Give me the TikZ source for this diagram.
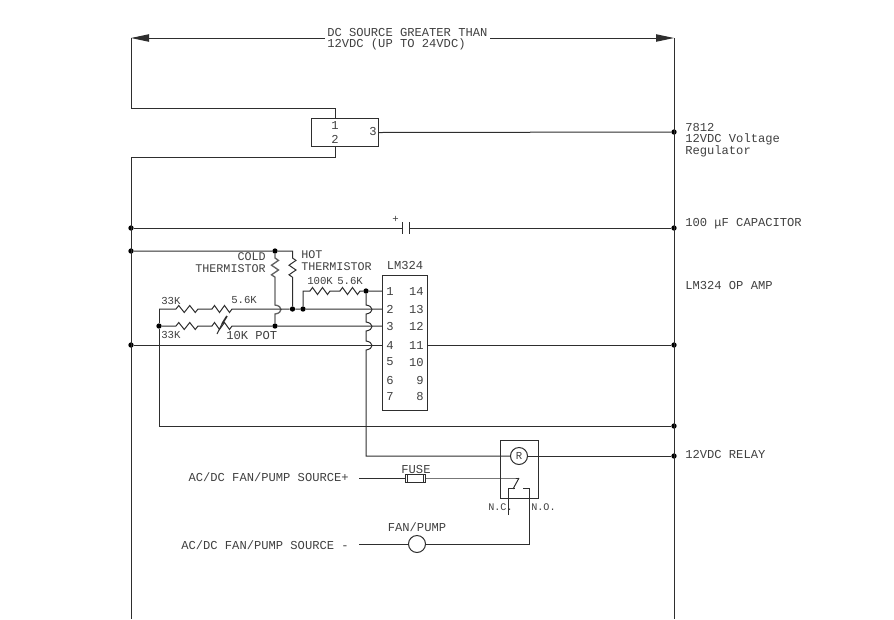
\documentclass[tikz,border=0pt]{standalone}
\usepackage{fontspec}
\setmainfont{Liberation Mono}
\usetikzlibrary{arrows.meta}
\definecolor{ink}{HTML}{2E2E2E}
\definecolor{txt}{HTML}{404040}
\newcommand{\hzig}[1]{-- ++(#1,-3.5) -- ++(2*#1,7) -- ++(2*#1,-7) -- ++(2*#1,7) -- ++(#1,-3.5)}
\newcommand{\vzig}[1]{-- ++(3.5,#1) -- ++(-7,2*#1) -- ++(7,2*#1) -- ++(-7,2*#1) -- ++(3.5,#1)}
\newcommand{\bump}{.. controls ++(8,1) and ++(8,-1) .. ++(0,9)}
\tikzset{
  wire/.style={draw=ink,line width=0.75pt},
  dotj/.style={circle,fill=black,inner sep=0pt,minimum size=4pt},
  lbl/.style={text=txt,font=\fontsize{9.1}{10}\selectfont,inner sep=0pt},
  lw/.style={lbl,anchor=west},
  le/.style={lbl,anchor=east},
  sml/.style={lbl,anchor=west,font=\fontsize{8}{9}\selectfont},
  thm/.style={lbl,font=\fontsize{8.8}{9}\selectfont},
  chip/.style={draw=ink,line width=0.75pt,inner sep=0pt,anchor=north west},
  ring/.style={draw=ink,line width=0.75pt,circle,inner sep=0pt,minimum size=12.75pt,fill=white,text=txt,font=\fontsize{8}{9}\selectfont},
  bigarrow/.style={-{Triangle[length=13.5pt,width=5.5pt]}}
}
\begin{document}
\begin{tikzpicture}[x=0.75pt,y=-0.75pt]
\useasboundingbox (0,0) rectangle (894,619);
% named points
\foreach \n/\x/\y in {tl/131/38,tr/674/38,gl/325/38,gr/490/38,
  a1/131/108,a2/335/108,b1/335/157,b2/131/157,bot/131/619,botr/674/619,
  rf1/292.5/251,rf2/292.5/258,rt/292.5/277,cf/275/258,ct/275/277,
  j1/275/305,j2/275/314,
  v1/159/309,zA/176/309,zB/198/309,zC/212/309,zD/232/309,
  zE/176/326,zF/198/326,zG/212/326,zH/232/326,
  fb/303/291,zI/310/291,zJ/330/291,zK/340/291,zL/360/291,
  q1/366/305,q2/366/314,q3/366/322,q4/366/331,q5/366/341,q6/366/350,
  c1/402.5/228,c2/409.5/228,
  lowl/159/426,relc/366/456,
  fu0/359/478,sw0/513/478,nc0/508/488,nc1/515/488,nc2/508/515,
  no0/523/488,no1/529/488,no2/529/544,fp0/359/544}
  {\coordinate (\n) at (\x,\y);}

% junctions
\node[dotj] (dTR) at (674,132) {};
\node[dotj] (dCR) at (674,228) {};
\node[dotj] (dOR) at (674,345) {};
\node[dotj] (dLR) at (674,426) {};
\node[dotj] (dRR) at (674,456) {};
\node[dotj] (dCL) at (131,228) {};
\node[dotj] (dTL) at (131,251) {};
\node[dotj] (dGL) at (131,345) {};
\node[dotj] (dCold) at (275,251) {};
\node[dotj] (dP3) at (275,326) {};
\node[dotj] (dHot) at (292.5,309) {};
\node[dotj] (dFb) at (303,309) {};
\node[dotj] (dOut) at (366,291) {};
\node[dotj] (dV) at (159,326) {};

% components
\node[chip,minimum width=50.25pt,minimum height=21pt] (reg) at (311,118) {};
\node[chip,minimum width=33.75pt,minimum height=101.25pt] (ic) at (382,275) {};
\node[chip,minimum width=28.5pt,minimum height=43.5pt] (rel) at (500,440) {};
\node[ring] (coil) at (519,456) {R};
\node[ring] (fan) at (417,544) {};
\node[draw=ink,line width=0.75pt,minimum width=15pt,minimum height=6pt,inner sep=0pt] (fuse) at (415,478) {};
\draw[wire] (407,474) -- (407,482) (423,474) -- (423,482);

% supply rails
\draw[wire,bigarrow] (gl) -- (tl);
\draw[wire,bigarrow] (gr) -- (tr);
\draw[wire] (tl) -- (a1) -- (a2) -- (a2 |- reg.north);
\draw[wire] (b1 |- reg.south) -- (b1) -- (b2) -- (bot);
\draw[wire] (tr) -- (botr);
\draw[wire] (reg.east) -- (dTR);
\draw[wire] (dCL) -- (c1) (c2) -- (dCR);
\draw[wire] (402.5,222) -- (402.5,234);
\draw[wire] (409.5,222) -- (409.5,234);

% thermistors
\draw[wire] (dTL) -- (dCold) -- (rf1) -- (rf2) \vzig{2.4} -- (rt) -- (dHot);
\draw[wire,line width=1pt,draw=ink!75] (dCold) -- (cf) \vzig{2.4} -- (j1) \bump -- (dP3);

% input networks
\draw[wire] (v1) -- (zA) \hzig{2.75} -- (zC) \hzig{2.5} -- (dHot) -- (dFb) -- (ic.west |- dFb);
\draw[wire] (dV) -- (zE) \hzig{2.75} -- (zG) \hzig{2.5} -- (dP3) -- (ic.west |- dP3);
\draw[wire] (v1) -- (dV) -- (lowl) -- (dLR);
\draw[wire,line width=1.3pt] (222,324) -- (227,316);
\draw[wire] (217,334) -- (222,324);
\draw[wire] (dFb) -- (fb) -- (zI) \hzig{2.5} -- (zK) \hzig{2.5} -- (dOut) -- (ic.west |- dOut);

% ground / pin 4 / pin 11
\draw[wire] (dGL) -- (ic.west |- dGL);
\draw[wire] (ic.east |- dOR) -- (dOR);

% relay coil
\draw[wire] (dOut) -- (q1) \bump -- (q3) \bump -- (q5) \bump -- (relc) -- (coil.west);
\draw[wire] (coil.east) -- (dRR);

% load circuit
\draw[wire] (fu0) -- (fuse.west) (fuse.east) -- (sw0) -- (519,478);
\draw[wire] (519,478) -- (513,489);
\draw[wire] (nc2) -- (nc0) -- (nc1);
\draw[wire] (no0) -- (no1) -- (no2) -- (fan.east);
\draw[wire] (fan.west) -- (fp0);

% labels
\node[lw] (t1) at (327,32) {DC SOURCE GREATER THAN};
\node[lw] (t2) at (327,44) {12VDC  (UP TO 24VDC)};
\node[lbl] (p1) at (335,125) {1};
\node[lbl] (p2) at (335,139) {2};
\node[lbl] (p3) at (373,131) {3};
\node[lw] (r1) at (685,127) {7812};
\node[lw] (r2) at (685,139) {12VDC Voltage};
\node[lw] (r3) at (685,151) {Regulator};
\node[lw] (r4) at (685,224) {100 μF CAPACITOR};
\node[lw] (r5) at (685,285) {LM324 OP AMP};
\node[lw] (r6) at (685,454) {12VDC RELAY};
\node[lbl] (plus) at (395.5,219) {\fontsize{8}{9}\selectfont +};
\node[thm,anchor=east] (th1) at (266,256.5) {COLD};
\node[thm,anchor=east] (th2) at (266,268.5) {THERMISTOR};
\node[thm,anchor=west] (th3) at (301,254.5) {HOT};
\node[thm,anchor=west] (th4) at (301,266.5) {THERMISTOR};
\node[lbl] (icn) at (405,265) {LM324};
\node[sml] (v100) at (307,281) {100K};
\node[sml] (v56b) at (337,281) {5.6K};
\node[sml] (v33a) at (161,301) {33K};
\node[sml] (v56a) at (231,300) {5.6K};
\node[sml] (v33b) at (161,335) {33K};
\node[lw] (vpot) at (226,335) {10K POT};
\foreach \n/\y in {1/291,2/309,3/326,4/345,5/362,6/380,7/396}
  \node[lw] (pl\n) at (386,\y) {\n};
\foreach \n/\y in {14/291,13/309,12/326,11/345,10/362,9/380,8/396}
  \node[le] (pr\n) at (424,\y) {\n};
\node[le] (s1) at (349,477) {AC/DC FAN/PUMP SOURCE+};
\node[le] (s2) at (349,545) {AC/DC FAN/PUMP SOURCE -};
\node[lbl] (fl) at (416,469) {FUSE};
\node[lbl] (fpl) at (417,527) {FAN/PUMP};
\node[lw] (nc) at (488,507) {\fontsize{7.6}{9}\selectfont N.C.};
\node[lw] (no) at (531,507) {\fontsize{7.6}{9}\selectfont N.O.};
\end{tikzpicture}
\end{document}
